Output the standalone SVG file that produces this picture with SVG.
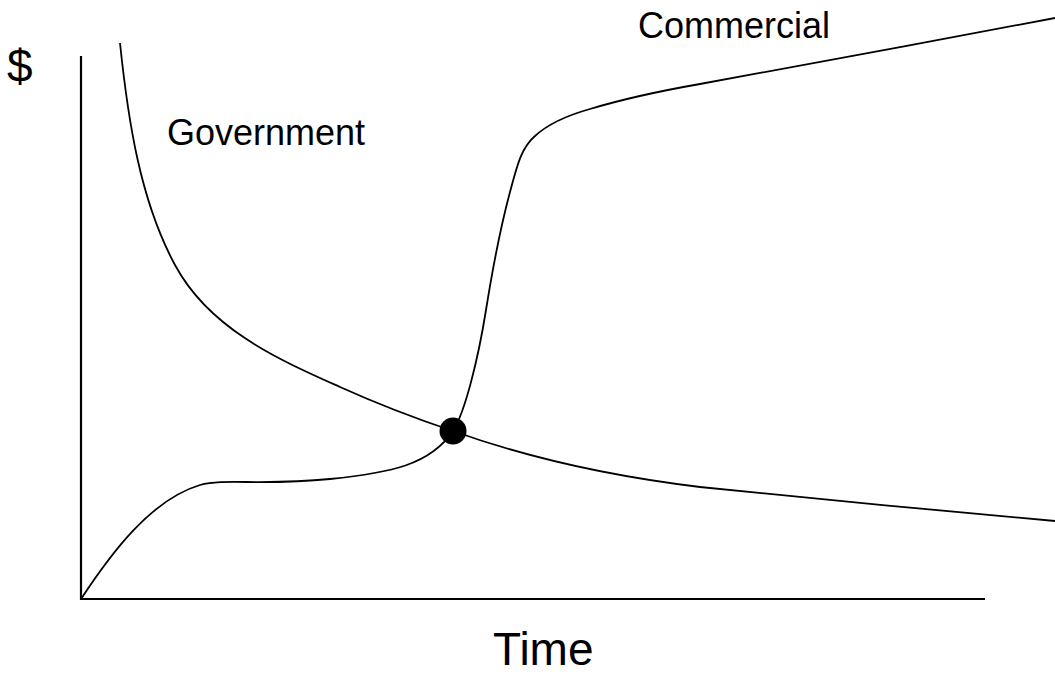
<svg xmlns="http://www.w3.org/2000/svg" width="1055" height="676" viewBox="0 0 1055 676">
<style>
.lbl{font-family:"Liberation Sans",Arial,sans-serif;fill:#000}
.ax{stroke:#000;stroke-width:2.2;fill:none}
.crv{stroke:#000;stroke-width:1.8;fill:none}
</style>
<rect width="1055" height="676" fill="#fff"/>
<g id="axes">
<line class="ax" x1="81" y1="56" x2="81" y2="600"/>
<line class="ax" x1="80" y1="599" x2="985" y2="599"/>
</g>
<g id="connectors">
<path id="government-curve" class="crv" d="M120,43 C128,120 140,200 175,265 C210,330 280,360 340,387 C380,405 420,420 453,431 C520,455 600,475 700,487 C800,497 950,512 1055,521"/>
<path id="commercial-curve" class="crv" d="M81,599 C110,555 150,500 200,485 C225,478 260,486 330,479 C390,473 430,465 453,431 C465,412 478,360 486,310 C494,260 503,218 510,192 C517,166 521,148 535,136 C548,124 565,116 590,109 C620,100 660,91 700,84 C760,73 950,38 1055,18"/>
</g>
<g id="intersection">
<circle cx="453" cy="431" r="13.5" fill="#000"/>
</g>
<g id="labels">
<text class="lbl" x="7" y="82" font-size="46">$</text>
<text class="lbl" x="167" y="145" font-size="36">Government</text>
<text class="lbl" x="638" y="38" font-size="36">Commercial</text>
<text class="lbl" x="493" y="665" font-size="46">Time</text>
</g>
</svg>
